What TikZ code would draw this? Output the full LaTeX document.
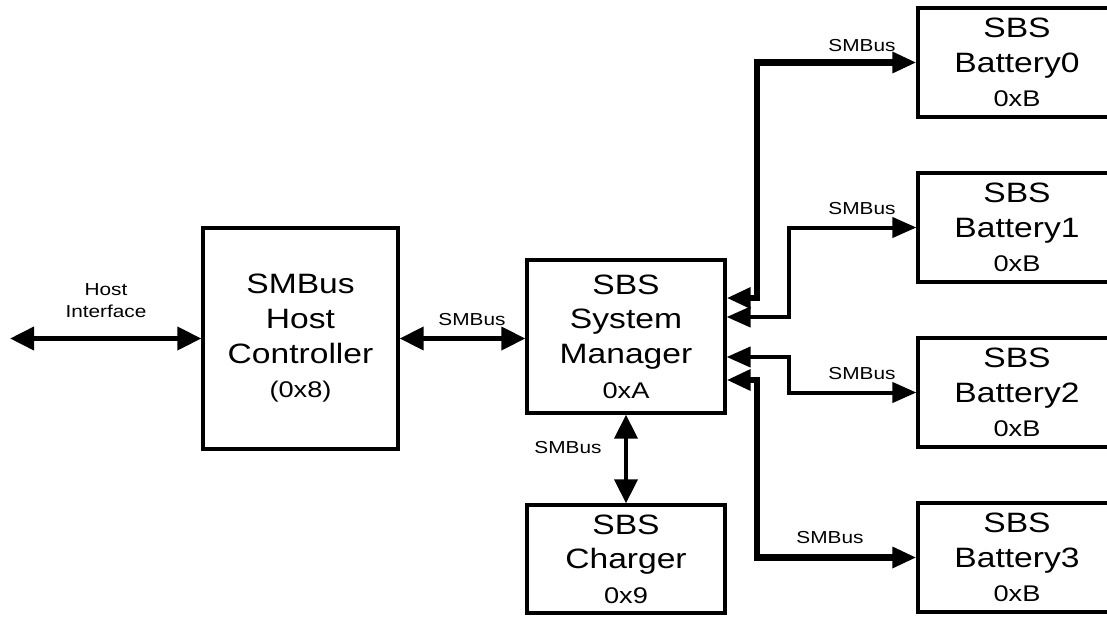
\documentclass[tikz,border=0pt]{standalone}
\usepackage{fontspec}
\setmainfont{Liberation Sans}[FakeStretch=1.2]
\usetikzlibrary{arrows.meta}
\newcommand{\bigf}{\fontsize{21}{26}\selectfont}
\newcommand{\smallf}{\fontsize{17}{26}\selectfont}
\newcommand{\lblf}{\fontsize{13}{16.5}\selectfont}
\begin{document}
\begin{tikzpicture}[x=0.75pt,y=-0.75pt,
  box/.style={draw, line width=2.4pt, align=center, font=\bigf, inner sep=0pt},
  lbl/.style={font=\lblf, align=center, inner sep=0pt},
  tips/.style={{Triangle[length=18pt,width=15pt]}-{Triangle[length=18pt,width=15pt]}},
  bigtips/.style={{Triangle[length=18pt,width=17pt]}-{Triangle[length=18pt,width=17pt]}},
  conn/.style={line width=3.6pt, bigtips},
  thinconn/.style={line width=3pt, tips},
  thickconn/.style={line width=4.8pt, tips}]
\useasboundingbox (0,0) rectangle (1107,617);
\clip (0,0) rectangle (1107,617);

% boxes
\node[box, minimum width=146.25pt, minimum height=165.75pt] (hc) at (300.5,338.5) {SMBus\\Host\\Controller\\\smallf (0x8)};
\node[box, minimum width=148.5pt, minimum height=114.75pt] (sm) at (626,336.5) {SBS\\System\\Manager\\\smallf 0xA};
\node[box, minimum width=148.5pt, minimum height=81pt] (ch) at (626,559) {SBS\\Charger\\\smallf 0x9};
\node[box, minimum width=148.5pt, minimum height=81.75pt] (b0) at (1017,62.5) {SBS\\Battery0\\\smallf 0xB};
\node[box, minimum width=148.5pt, minimum height=81.75pt] (b1) at (1017,227.5) {SBS\\Battery1\\\smallf 0xB};
\node[box, minimum width=148.5pt, minimum height=81.75pt] (b2) at (1017,392.5) {SBS\\Battery2\\\smallf 0xB};
\node[box, minimum width=148.5pt, minimum height=81.75pt] (b3) at (1017,557.5) {SBS\\Battery3\\\smallf 0xB};

% free end and bends
\coordinate (hi) at (10,338.5);
\coordinate (k0) at (757,298);
\coordinate (k1) at (789,317);
\coordinate (k2) at (789,357);
\coordinate (k3) at (757,380);

% connectors
\draw[conn] (hi) -- (hc.west);
\draw[conn] (hc.east) -- (hc.east -| sm.west);
\draw[conn] (sm.south) -- (ch.north);
\draw[thickconn] (sm.east |- k0) -- (k0) |- (b0.west);
\draw[thinconn] (sm.east |- k1) -- (k1) |- (b1.west);
\draw[thinconn] (sm.east |- k2) -- (k2) |- (b2.west);
\draw[thickconn] (sm.east |- k3) -- (k3) |- (b3.west);

% labels
\node[lbl] (lhi) at (106,301) {Host\\Interface};
\node[lbl] (l1) at (472,320) {SMBus};
\node[lbl] (l2) at (568,448) {SMBus};
\node[lbl] (l3) at (862,46) {SMBus};
\node[lbl] (l4) at (862,209) {SMBus};
\node[lbl] (l5) at (862,374) {SMBus};
\node[lbl] (l6) at (830,538) {SMBus};
\end{tikzpicture}
\end{document}
